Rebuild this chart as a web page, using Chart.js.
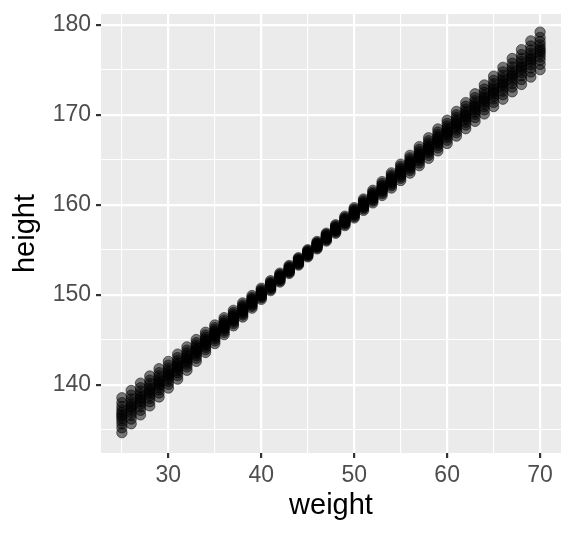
<!DOCTYPE html>
<html><head><meta charset="utf-8">
<style>html,body{margin:0;padding:0;background:#fff}#wrap{width:576px;height:537px}</style>
<script src="https://cdn.jsdelivr.net/npm/chart.js@4/dist/chart.umd.min.js"></script>
</head><body><div id="wrap"><canvas id="c" width="576" height="537"></canvas></div>
<script>
const weights = [25,26,27,28,29,30,31,32,33,34,35,36,37,38,39,40,41,42,43,44,45,46,47,48,49,50,51,52,53,54,55,56,57,58,59,60,61,62,63,64,65,66,67,68,69,70];
const heights = [
[134.66,135.2,135.63,135.98,136.27,136.5,136.7,136.93,137.22,137.57,138.0,138.54],
[135.65,136.17,136.58,136.91,137.19,137.41,137.59,137.81,138.09,138.42,138.83,139.35],
[136.64,137.14,137.52,137.84,138.1,138.31,138.49,138.7,138.96,139.28,139.66,140.16],
[137.64,138.1,138.47,138.77,139.02,139.22,139.38,139.58,139.83,140.13,140.5,140.96],
[138.63,139.07,139.41,139.7,139.93,140.12,140.28,140.47,140.7,140.99,141.33,141.77],
[139.62,140.03,140.36,140.63,140.85,141.03,141.17,141.35,141.57,141.84,142.17,142.58],
[140.61,141.0,141.31,141.56,141.76,141.93,142.07,142.24,142.44,142.69,143.0,143.39],
[141.6,141.97,142.25,142.48,142.68,142.84,142.96,143.12,143.32,143.55,143.83,144.2],
[142.59,142.93,143.2,143.41,143.59,143.74,143.86,144.01,144.19,144.4,144.67,145.01],
[143.58,143.89,144.14,144.34,144.51,144.64,144.76,144.89,145.06,145.26,145.51,145.82],
[144.57,144.86,145.08,145.27,145.42,145.55,145.65,145.78,145.93,146.12,146.34,146.63],
[145.56,145.82,146.03,146.2,146.34,146.45,146.55,146.66,146.8,146.97,147.18,147.44],
[146.54,146.78,146.97,147.13,147.25,147.36,147.44,147.55,147.67,147.83,148.02,148.26],
[147.52,147.74,147.91,148.05,148.17,148.26,148.34,148.43,148.55,148.69,148.86,149.08],
[148.5,148.7,148.85,148.98,149.08,149.17,149.23,149.32,149.42,149.55,149.7,149.9],
[149.48,149.65,149.79,149.9,149.99,150.07,150.13,150.21,150.3,150.41,150.55,150.72],
[150.45,150.6,150.72,150.82,150.91,150.97,151.03,151.09,151.18,151.28,151.4,151.55],
[151.41,151.55,151.65,151.74,151.82,151.88,151.92,151.98,152.06,152.15,152.25,152.39],
[152.36,152.48,152.58,152.66,152.72,152.78,152.82,152.88,152.94,153.02,153.12,153.24],
[153.29,153.4,153.49,153.57,153.63,153.68,153.72,153.77,153.83,153.91,154.0,154.11],
[154.2,154.31,154.4,154.47,154.53,154.58,154.62,154.67,154.73,154.8,154.89,155.0],
[155.09,155.21,155.3,155.37,155.43,155.48,155.52,155.57,155.63,155.7,155.79,155.91],
[155.97,156.09,156.18,156.26,156.33,156.38,156.42,156.47,156.54,156.62,156.71,156.83],
[156.83,156.96,157.06,157.15,157.22,157.28,157.32,157.38,157.45,157.54,157.64,157.77],
[157.68,157.83,157.94,158.03,158.11,158.17,158.23,158.29,158.37,158.46,158.57,158.72],
[158.53,158.69,158.81,158.92,159.0,159.07,159.13,159.2,159.28,159.39,159.51,159.67],
[159.37,159.54,159.68,159.8,159.89,159.97,160.03,160.11,160.2,160.32,160.46,160.63],
[160.2,160.4,160.55,160.68,160.78,160.86,160.94,161.02,161.12,161.25,161.4,161.6],
[161.03,161.25,161.42,161.55,161.67,161.76,161.84,161.93,162.05,162.18,162.35,162.57],
[161.86,162.1,162.28,162.43,162.56,162.66,162.74,162.84,162.97,163.12,163.3,163.54],
[162.69,162.94,163.14,163.31,163.44,163.55,163.65,163.76,163.89,164.06,164.26,164.51],
[163.51,163.79,164.01,164.18,164.33,164.45,164.55,164.67,164.82,164.99,165.21,165.49],
[164.34,164.64,164.87,165.06,165.22,165.35,165.45,165.58,165.74,165.93,166.16,166.46],
[165.16,165.48,165.73,165.94,166.11,166.24,166.36,166.49,166.66,166.87,167.12,167.44],
[165.98,166.32,166.59,166.81,166.99,167.14,167.26,167.41,167.59,167.81,168.08,168.42],
[166.81,167.17,167.45,167.69,167.88,168.04,168.16,168.32,168.51,168.75,169.03,169.39],
[167.63,168.01,168.31,168.56,168.77,168.93,169.07,169.23,169.44,169.69,169.99,170.37],
[168.45,168.86,169.17,169.44,169.65,169.83,169.97,170.15,170.36,170.63,170.94,171.35],
[169.27,169.7,170.04,170.31,170.54,170.72,170.88,171.06,171.29,171.56,171.9,172.33],
[170.09,170.54,170.9,171.19,171.43,171.62,171.78,171.97,172.21,172.5,172.86,173.31],
[170.91,171.38,171.76,172.06,172.31,172.52,172.68,172.89,173.14,173.44,173.82,174.29],
[171.73,172.23,172.62,172.93,173.2,173.41,173.59,173.8,174.07,174.38,174.77,175.27],
[172.55,173.07,173.48,173.81,174.09,174.31,174.49,174.71,174.99,175.32,175.73,176.25],
[173.37,173.91,174.34,174.68,174.97,175.2,175.4,175.63,175.92,176.26,176.69,177.23],
[174.19,174.75,175.2,175.56,175.86,176.1,176.3,176.54,176.84,177.2,177.65,178.21],
[175.01,175.6,176.06,176.43,176.74,177.0,177.2,177.46,177.77,178.14,178.6,179.19]
];
const xGrid = [25,30,35,40,45,50,55,60,65,70];
const xLabels = [30,40,50,60,70];
const yGrid = [135,140,145,150,155,160,165,170,175,180];
const yLabels = [140,150,160,170,180];

const points = [];
weights.forEach((w, i) => heights[i].forEach(h => points.push({x: w, y: h})));

const FONT = "'Liberation Sans', Arial, Helvetica, sans-serif";

const panelBg = {
  id: 'panelBg',
  beforeDraw(chart) {
    const {ctx, chartArea: a} = chart;
    ctx.save();
    ctx.fillStyle = '#ebebeb';
    ctx.fillRect(a.left, a.top, a.right - a.left, a.bottom - a.top);
    ctx.restore();
  }
};

function axis(gridVals, labelVals, min, max, title, isX) {
  return {
    type: 'linear',
    min: min, max: max,
    afterBuildTicks: s => { s.ticks = gridVals.map(v => ({value: v})); },
    afterFit: s => {
      if (isX) { s.height = 84; s.paddingLeft = 0; s.paddingRight = 0; }
      else { s.width = 101; s.paddingTop = 0; s.paddingBottom = 0; }
    },
    border: {display: false},
    grid: {
      color: '#ffffff',
      lineWidth: c => (c.tick && labelVals.includes(c.tick.value)) ? 2.2 : 1.1,
      drawTicks: true,
      tickLength: 5,
      tickWidth: 2.2,
      tickColor: c => (c.tick && labelVals.includes(c.tick.value)) ? '#333333' : 'rgba(0,0,0,0)'
    },
    ticks: {
      autoSkip: false,
      maxRotation: 0,
      color: '#4d4d4d',
      font: {family: FONT, size: 23},
      padding: isX ? 4 : 5,
      callback: v => labelVals.includes(v) ? String(v) : ''
    },
    title: {
      display: true,
      text: title,
      color: '#000000',
      font: {family: FONT, size: 29, lineHeight: 1},
      padding: isX ? {top: 0, bottom: 17} : {top: 11, bottom: 0}
    }
  };
}

new Chart(document.getElementById('c'), {
  type: 'scatter',
  data: {
    datasets: [{
      label: 'height',
      data: points,
      backgroundColor: 'rgba(0,0,0,0.5)',
      borderColor: 'rgba(0,0,0,0.5)',
      borderWidth: 1,
      pointRadius: 5.2,
      pointHoverRadius: 5.2
    }]
  },
  options: {
    responsive: false,
    devicePixelRatio: 1,
    animation: false,
    events: [],
    layout: {padding: {top: 14, right: 15, left: 0, bottom: 0}},
    plugins: {legend: {display: false}, tooltip: {enabled: false}},
    scales: {
      x: axis(xGrid, xLabels, 22.75, 72.25, 'weight', true),
      y: axis(yGrid, yLabels, 132.4, 181.2, 'height', false)
    }
  },
  plugins: [panelBg]
});
</script>
</body></html>
